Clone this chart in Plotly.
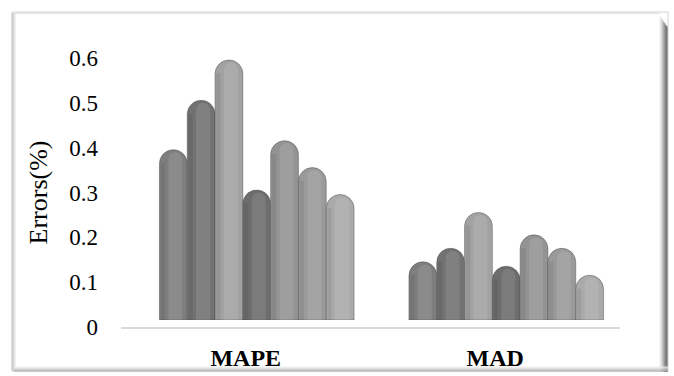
import plotly.graph_objects as go

# Error metrics for the seven compared models
categories = ["MAPE", "MAD"]
series_names = ["Model 1", "Model 2", "Model 3", "Model 4", "Model 5", "Model 6", "Model 7"]
mape_values = [0.38, 0.49, 0.58, 0.29, 0.40, 0.34, 0.28]
mad_values = [0.13, 0.16, 0.24, 0.12, 0.19, 0.16, 0.10]
y_ticks = [0, 0.1, 0.2, 0.3, 0.4, 0.5, 0.6]
y_tick_labels = ["0", "0.1", "0.2", "0.3", "0.4", "0.5", "0.6"]

series_colors = ["#7e7e7e", "#727272", "#a2a2a2", "#6d6d6d", "#939393", "#9a9a9a", "#aaaaaa"]

W, H = 674, 376
ML, MR, MT, MB = 121, 43, 51, 49
PW, PH = W - ML - MR, H - MT - MB


def px_x(x):
    return (x - ML) / PW


def px_y(y):
    return (H - MB - y) / PH


fig = go.Figure()

group_width = 0.78
bar_w = group_width / len(series_names)
xpos = list(range(len(categories)))

# invisible anchor so the labelled axes are drawn
fig.add_trace(go.Scatter(x=xpos, y=[0, 0], mode="markers", marker=dict(opacity=0),
                         xaxis="x", yaxis="y", showlegend=False, hoverinfo="skip"))

for i, name in enumerate(series_names):
    vals = [mape_values[i], mad_values[i]]
    off = -group_width / 2 + i * bar_w
    # cylinder body
    fig.add_trace(go.Bar(
        x=xpos, y=vals, name=name, offset=off, width=bar_w,
        marker=dict(color=series_colors[i], cornerradius="50%",
                    line=dict(color="rgba(70,70,70,0.45)", width=1)),
        xaxis="x2", yaxis="y2", showlegend=False, hoverinfo="y",
    ))
    # darker left flank
    fig.add_trace(go.Bar(
        x=xpos, y=[v - 0.03 for v in vals], offset=off + bar_w * 0.04, width=bar_w * 0.16,
        marker=dict(color="rgba(0,0,0,0.07)", line=dict(width=0)),
        xaxis="x2", yaxis="y2", showlegend=False, hoverinfo="skip",
    ))
    # soft highlight along the cylinder
    fig.add_trace(go.Bar(
        x=xpos, y=[v - 0.006 for v in vals], offset=off + bar_w * 0.32, width=bar_w * 0.5,
        marker=dict(color="rgba(255,255,255,0.10)", cornerradius="50%", line=dict(width=0)),
        xaxis="x2", yaxis="y2", showlegend=False, hoverinfo="skip",
    ))

serif = "Liberation Serif, Times New Roman, serif"

shapes = []
# chart frame with shaded edges
shapes.append(dict(type="rect", xref="paper", yref="paper", layer="below",
                   x0=px_x(12), x1=px_x(668), y0=px_y(371), y1=px_y(12),
                   line=dict(color="#d4d4d4", width=1), fillcolor="rgba(0,0,0,0)"))
for k, c in enumerate(["#cfcfcf", "#c2c2c2", "#cfcfcf", "#e2e2e2"]):
    shapes.append(dict(type="line", xref="paper", yref="paper", layer="below",
                       x0=px_x(12 + k), x1=px_x(12 + k), y0=px_y(371), y1=px_y(13),
                       line=dict(color=c, width=1)))
for k, c in enumerate(["#eeeeee", "#dddddd", "#c4c4c4", "#a8a8a8", "#8a8a8a", "#6c6c6c", "#555555", "#4a4a4a"]):
    shapes.append(dict(type="line", xref="paper", yref="paper", layer="below",
                       x0=px_x(660 + k), x1=px_x(660 + k), y0=px_y(372), y1=px_y(16 + k * 1.5),
                       line=dict(color=c, width=1)))
for k, c in enumerate(["#f0f0f0", "#e2e2e2", "#d0d0d0", "#bdbdbd", "#a9a9a9"]):
    shapes.append(dict(type="line", xref="paper", yref="paper", layer="below",
                       x0=px_x(14), x1=px_x(668), y0=px_y(367 + k), y1=px_y(367 + k),
                       line=dict(color=c, width=1)))
shapes.append(dict(type="line", xref="paper", yref="paper", layer="below",
                   x0=px_x(14), x1=px_x(660), y0=px_y(13), y1=px_y(13),
                   line=dict(color="#e4e4e4", width=2)))

fig.update_layout(
    width=W, height=H,
    margin=dict(l=ML, r=MR, t=MT, b=MB, autoexpand=False),
    paper_bgcolor="white", plot_bgcolor="rgba(0,0,0,0)",
    barmode="overlay",
    showlegend=False,
    shapes=shapes,
    xaxis=dict(domain=[0, (PW - 11) / PW], range=[-0.5, 1.5],
               tickvals=xpos, ticktext=["<b>%s</b>" % c for c in categories],
               tickfont=dict(family=serif, size=24, color="black"),
               showline=True, linecolor="#d9d9d9", linewidth=2,
               showgrid=False, zeroline=False, ticks="", ticklabelstandoff=8,
               anchor="y", fixedrange=True, automargin=False),
    yaxis=dict(domain=[0, (PH - 7) / PH], range=[0, 0.6],
               tickvals=y_ticks, ticktext=y_tick_labels,
               tickfont=dict(family=serif, size=23, color="black"),
               showline=False, showgrid=False, zeroline=False, ticks="",
               ticklabelstandoff=22,
               title=dict(text="Errors(%)", font=dict(family=serif, size=26, color="black"),
                          standoff=14),
               anchor="x", fixedrange=True, automargin=False),
    xaxis2=dict(domain=[11 / PW, 1], range=[-0.5, 1.5], anchor="y2", automargin=False,
                showticklabels=False, showgrid=False, zeroline=False, showline=False),
    yaxis2=dict(domain=[7 / PH, 1], range=[0, 0.6], anchor="x2", automargin=False,
                showticklabels=False, showgrid=False, zeroline=False, showline=False),
)

fig.write_html("out.html")
